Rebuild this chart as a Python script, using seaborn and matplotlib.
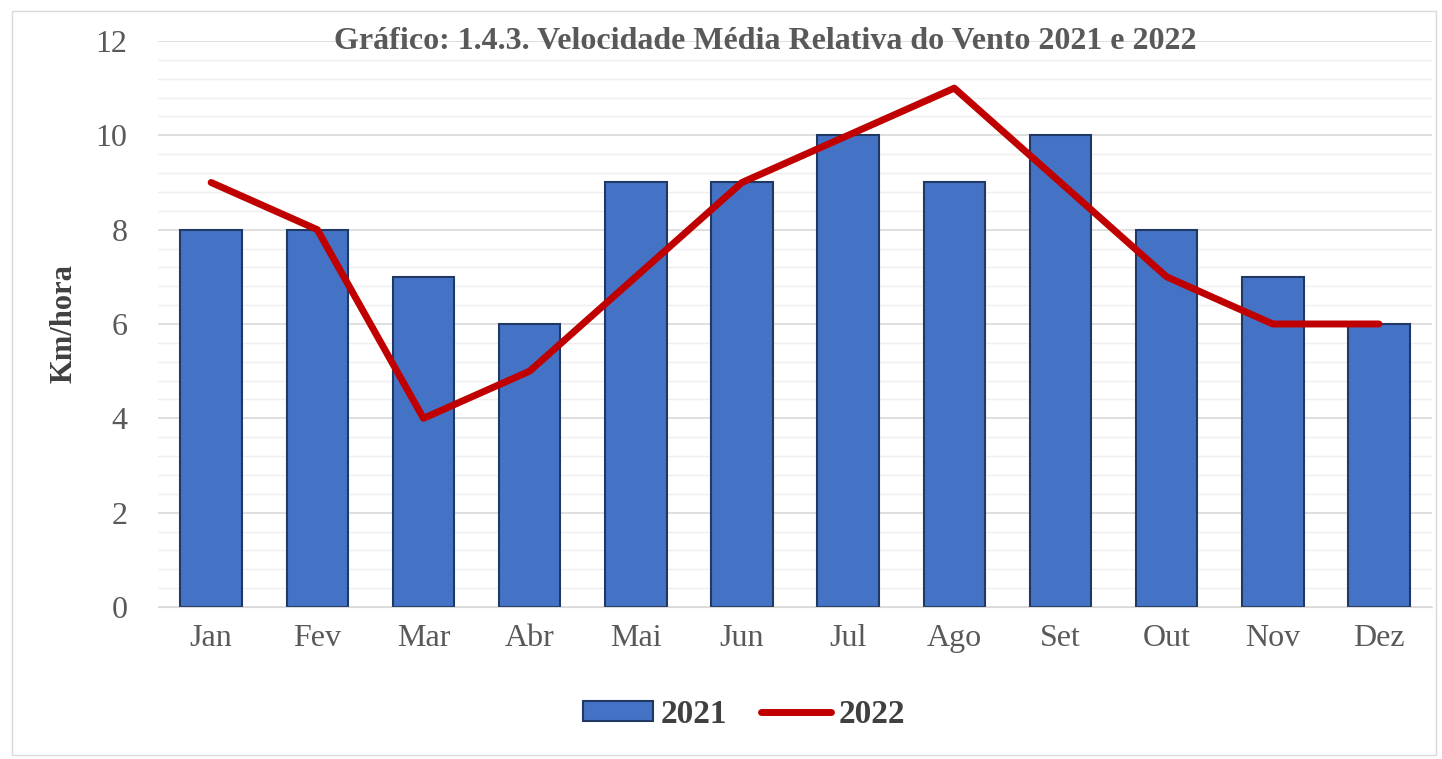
import pandas as pd
import numpy as np
import matplotlib.pyplot as plt
import seaborn as sns
from matplotlib.ticker import MultipleLocator
from matplotlib.patches import Rectangle

meses = ["Jan", "Fev", "Mar", "Abr", "Mai", "Jun", "Jul", "Ago", "Set", "Out", "Nov", "Dez"]
vel_2021 = [8, 8, 7, 6, 9, 9, 10, 9, 10, 8, 7, 6]
vel_2022 = [9, 8, 4, 5, 7, 9, 10, 11, 9, 7, 6, 6]

df = pd.DataFrame({"mes": meses, "2021": vel_2021, "2022": vel_2022})

sns.set_style("white")
plt.rcParams['font.family'] = ['Liberation Serif', 'DejaVu Serif']

fig = plt.figure(figsize=(14.42, 7.59), dpi=100)
ax = fig.add_axes([0.1096, 0.2003, 0.8835, 0.7457])

# moldura externa
fig.patches.append(Rectangle((0.008, 0.005), 0.988, 0.98, transform=fig.transFigure,
                             fill=False, edgecolor="#d9d9d9", lw=1))

sns.barplot(data=df, x="mes", y="2021", color="#4472C4", edgecolor="#1F3864",
            linewidth=1.5, width=0.58, saturation=1, ax=ax, label="2021", zorder=2)
sns.lineplot(x=np.arange(len(meses)), y=df["2022"], color="#C00000", lw=5,
             ax=ax, label="2022", zorder=3)

ax.set_ylim(0, 12)
ax.set_xlim(-0.5, 11.5)
ax.yaxis.set_major_locator(MultipleLocator(2))
ax.yaxis.set_minor_locator(MultipleLocator(0.4))
ax.grid(axis="y", which="major", color="#d9d9d9", lw=1.2, zorder=0)
ax.grid(axis="y", which="minor", color="#efefef", lw=1, zorder=0)
ax.set_axisbelow(True)
for s in ["top", "right", "left"]:
    ax.spines[s].set_visible(False)
ax.spines["bottom"].set_color("#d9d9d9")

ax.tick_params(axis="both", length=0, labelsize=23, labelcolor="#595959")
ax.tick_params(axis="x", pad=12)
ax.tick_params(axis="y", pad=22)
ax.set_xlabel("")
ax.set_ylabel("Km/hora", fontsize=22, fontweight="bold", color="#404040", labelpad=12)

ax.text(0.477, 0.999, "Gráfico: 1.4.3. Velocidade Média Relativa do Vento 2021 e 2022",
        transform=ax.transAxes, ha="center", va="center", fontsize=23,
        fontweight="bold", color="#595959")

handles, labels = ax.get_legend_handles_labels()
order = [labels.index("2021"), labels.index("2022")]
ax.legend([handles[i] for i in order], [labels[i] for i in order],
          loc="center", bbox_to_anchor=(0.46, -0.19), ncol=2, frameon=False,
          prop={"size": 24, "weight": "bold"}, labelcolor="#404040",
          handlelength=2.1, handleheight=0.55, handletextpad=0.25, columnspacing=1.0)

fig.savefig("out.png", dpi=100)
